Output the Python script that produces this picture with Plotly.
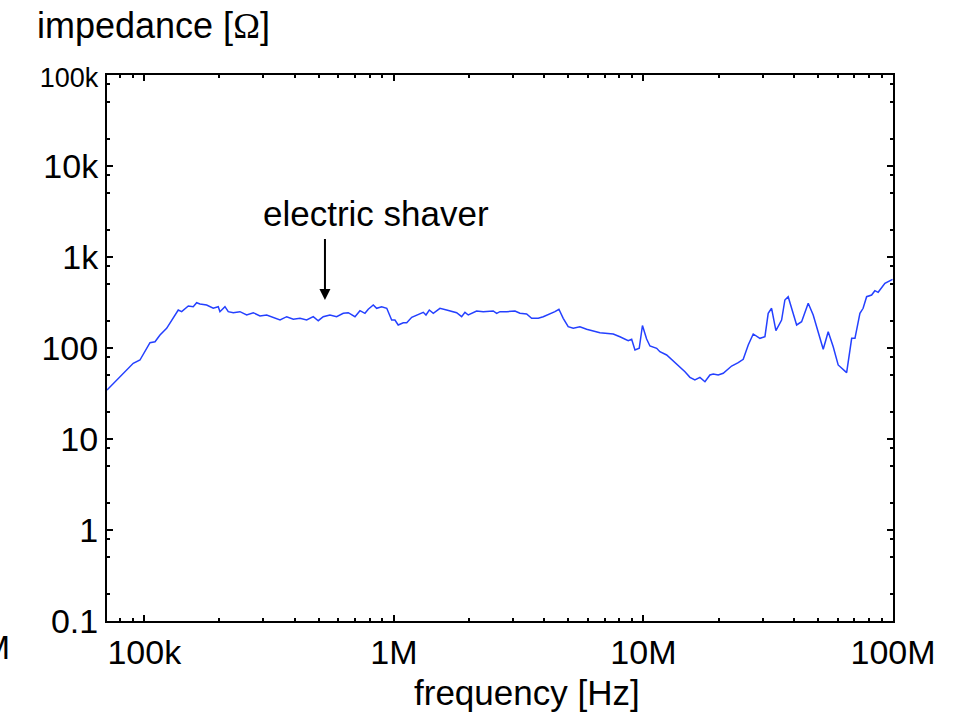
import math
import plotly.graph_objects as go

# Impedance sweep of an electric shaver (frequency in kHz, impedance in ohms)
freq_khz = [
    70.9, 78.7, 83.7, 90.3, 96.1, 105.4, 110.4, 115.6, 122.9, 130.7,
    136.8, 141.2, 150.1, 157.1, 162.1, 167.2, 177.8, 188.9, 197.9, 201.0,
    210.5, 217.0, 227.3, 241.7, 257.2, 273.4, 290.8, 309.3, 328.7, 349.9,
    372.0, 395.5, 420.6, 447.3, 475.4, 497.8, 521.3, 554.6, 589.8, 627.0,
    656.6, 698.6, 731.5, 765.9, 789.6, 827.0, 853.3, 893.6, 936.6, 980.0,
    1010, 1041, 1091, 1126, 1179, 1234, 1312, 1345, 1387, 1439,
    1530, 1627, 1704, 1785, 1869, 1927, 1987, 2146, 2281, 2427,
    2501, 2582, 2662, 2831, 3057, 3200, 3404, 3565, 3789, 3968,
    4220, 4420, 4586, 4771, 4995, 5234, 5566, 5920, 6695, 7568,
    8050, 8690, 8970, 9250, 9620, 9910, 10300, 10620, 11300, 11640,
    12390, 12970, 14000, 14670, 15360, 16080, 16840, 17640, 18470, 19040,
    19940, 20880, 22560, 23980, 25110, 26300, 27540, 29290, 30680, 31620,
    32620, 33950, 35780, 36880, 38020, 41100, 43030, 45740, 47890, 52530,
    55000, 57600, 60300, 65200, 68300, 70400, 73700, 75900, 78400, 82100,
    84600, 87200, 92800, 99600,
]
impedance_ohm = [
    34.6, 46.4, 54.9, 67.9, 73.8, 114.4, 117.2, 139, 164.6, 212,
    261.6, 250.6, 289.4, 284.4, 314.6, 304.4, 296.8, 273.1, 284.4, 250.6,
    284.4, 250.6, 244.3, 250.6, 230.6, 244.3, 224.8, 230.6, 217.5, 203.1,
    220.8, 206.8, 212, 203.1, 220.8, 199.5, 220.8, 230.6, 220.8, 240.6,
    244.3, 220.8, 257, 240.6, 266.3, 296.8, 273.1, 284.4, 273.1, 203.1,
    203.1, 179, 189.7, 189.7, 217.5, 230.6, 246.8, 230.6, 261.6, 240.6,
    273.1, 261.6, 250.6, 244.3, 220.8, 246.8, 230.6, 255.1, 250.6, 250.6,
    255.1, 240.6, 250.6, 250.6, 255.1, 240.6, 236.4, 212, 212, 220.8,
    236.4, 250.6, 266.3, 212, 171.4, 164.6, 171.4, 160.5, 147.3, 142.6,
    133.1, 120.3, 124.6, 95.1, 99.2, 176.7, 125.6, 105.2, 99.2, 91,
    83.8, 75.1, 61.4, 54.9, 47.6, 44.5, 47.6, 42.6, 50.5, 51.8,
    50.5, 52.7, 63.4, 68.9, 75.1, 107.9, 142.6, 127.8, 133.1, 240.6,
    273.1, 154.9, 203.1, 337, 366.2, 179, 194.5, 309.9, 230.6, 96.8,
    151, 103.3, 65.1, 53.6, 127.8, 127.8, 240.6, 273.1, 366.2, 382.3,
    426.3, 409.3, 514, 568.9,
]

x_tick_vals = [1e5, 1e6, 1e7, 1e8]
x_tick_text = ["100k", "1M", "10M", "100M"]
y_tick_vals = [0.1, 1, 10, 100, 1e3, 1e4, 1e5]
y_tick_text = ["0.1", "1", "10", "100", "1k", "10k",
               "<span style='font-size:27px'>100k</span>"]

# minor ticks: 2..9 per decade on frequency, 2/5/8 per decade on impedance
x_minor = [m * 10 ** d for d in range(4, 8) for m in range(2, 10)]
y_minor = [m * 10 ** d for d in range(-1, 5) for m in (2, 5, 8)]

# arrow pointing at the trace (Hz, ohm)
arrow_tip = (529.6e3, 337)
arrow_tail = (529.6e3, 1660)

freqs = [f * 1e3 for f in freq_khz]

fig = go.Figure()
fig.add_trace(go.Scatter(
    x=freqs, y=impedance_ohm, mode="lines",
    line=dict(color="#2440ff", width=1.5),
    showlegend=False,
))

font_family = "Liberation Sans, Arial, Helvetica, sans-serif"

axis_common = dict(
    type="log",
    showline=True, linecolor="black", linewidth=2,
    mirror="allticks",
    ticks="inside", ticklen=6, tickwidth=2, tickcolor="black",
    showgrid=False, zeroline=False,
    tickfont=dict(size=34, color="black", family=font_family),
)

fig.update_xaxes(
    **axis_common,
    range=[4.8506, 8.0],
    tickmode="array", tickvals=x_tick_vals, ticktext=x_tick_text,
    minor=dict(tickmode="array", tickvals=x_minor, ticks="inside",
               ticklen=3, tickwidth=1.5, tickcolor="black", showgrid=False),
)
fig.update_yaxes(
    **axis_common,
    range=[-1, 5],
    tickmode="array", tickvals=y_tick_vals, ticktext=y_tick_text,
    minor=dict(tickmode="array", tickvals=y_minor, ticks="inside",
               ticklen=3, tickwidth=1.5, tickcolor="black", showgrid=False),
)

# annotation positions on log axes are given in log10 units
fig.add_annotation(
    x=math.log10(arrow_tip[0]), y=math.log10(arrow_tip[1]),
    xref="x", yref="y",
    ax=math.log10(arrow_tail[0]), ay=math.log10(arrow_tail[1]),
    axref="x", ayref="y",
    text=" ", font=dict(size=1), showarrow=True,
    arrowhead=2, arrowsize=1.1, arrowwidth=2, arrowcolor="black",
    standoff=0, startstandoff=0,
)

fig.add_annotation(
    x=0.342, y=0.746, xref="paper", yref="paper",
    text="electric shaver", showarrow=False,
    xanchor="center", yanchor="middle",
    font=dict(size=35, color="black", family=font_family),
)

fig.add_annotation(
    x=-0.091, y=1.09, xref="paper", yref="paper",
    text="impedance [<span style='font-family:Liberation Serif'>Ω</span>]",
    showarrow=False, xanchor="left", yanchor="middle",
    font=dict(size=36, color="black", family=font_family),
)

fig.add_annotation(
    x=0.534, y=0, xref="paper", yref="paper",
    text="frequency [Hz]", showarrow=False,
    xanchor="center", yanchor="middle", yshift=-71,
    font=dict(size=35, color="black", family=font_family),
)

# clipped tick label at the far left edge
fig.add_annotation(
    x=-0.121, y=-0.047, xref="paper", yref="paper",
    text="10M", showarrow=False, xanchor="right", yanchor="middle",
    font=dict(size=34, color="black", family=font_family),
)

fig.update_layout(
    width=956, height=714,
    margin=dict(l=107, r=63, t=75, b=93),
    paper_bgcolor="white", plot_bgcolor="white",
    font=dict(family=font_family, color="black"),
)

fig.write_html("out.html")
